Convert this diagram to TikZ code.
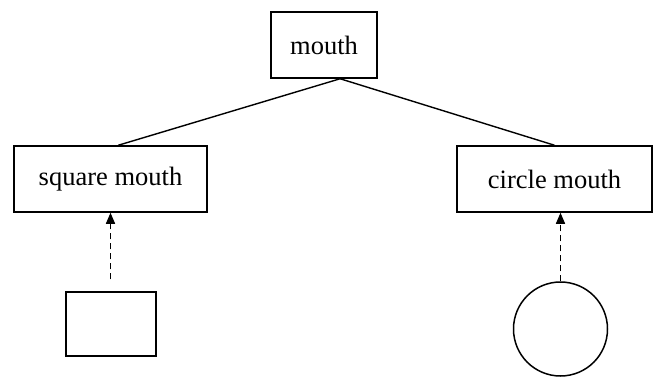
\documentclass[tikz,border=0pt]{standalone}
\usepackage{fontspec}
\setmainfont{Liberation Serif}
\usetikzlibrary{arrows.meta,calc}
\begin{document}
\begin{tikzpicture}[x=1pt,y=1pt,
  box/.style={draw,line width=1.5pt,rectangle,inner sep=0pt,font=\fontsize{26.5}{30}\selectfont},
  link/.style={line width=1.4pt},
  dep/.style={line width=1.4pt,dash pattern=on 6pt off 4pt,-{Triangle[length=11pt,width=9pt]}}]
\useasboundingbox (0,0) rectangle (654,-378);
\node[box,minimum width=106pt,minimum height=66pt] (mouth) at (324,-45) {\raisebox{-2pt}{mouth}};
\node[box,minimum width=193pt,minimum height=66pt] (sq) at (110.5,-179) {\raisebox{-2pt}{square mouth}};
\node[box,minimum width=195pt,minimum height=66pt] (cm) at (554.5,-179) {\raisebox{-2pt}{circle mouth}};
\node[draw,line width=1.5pt,minimum width=90pt,minimum height=64pt,inner sep=0pt] (rect) at (111,-324) {};
\node[draw,line width=1.5pt,circle,minimum size=94pt,inner sep=0pt] (circ) at (560.5,-329) {};
\draw[link] ($(mouth.south west)!0.65!(mouth.south east)$) -- ($(sq.north west)!0.54!(sq.north east)$);
\draw[link] ($(mouth.south west)!0.65!(mouth.south east)$) -- (cm.north);
\draw[dep,shorten <=12pt] (rect.north -| sq.south) -- (sq.south);
\draw[dep] (circ.north) -- (circ.north |- cm.south);
\end{tikzpicture}
\end{document}
